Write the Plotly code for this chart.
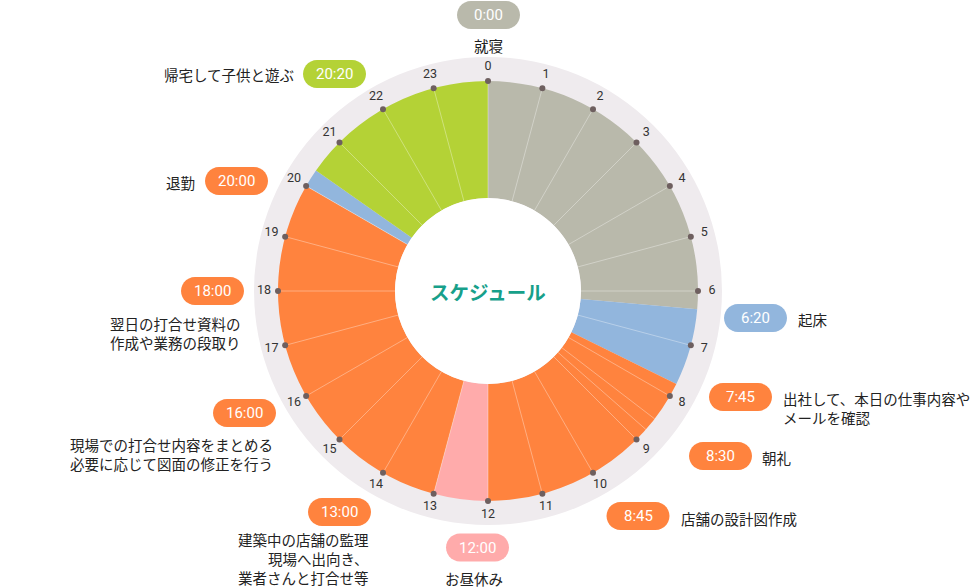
import numpy as np
import plotly.graph_objects as go

# schedule wedges (start times; last one closes the day)
segment_times = ["0:00", "6:20", "7:45", "12:00", "13:00", "20:00", "20:20", "24:00"]
segment_kind = ["sleep", "wake", "work", "lunch", "work", "wake", "home"]

# hour ticks round the dial
hours = list(range(24))
# extra thin spokes inside the work block
extra_spokes = ["8:30", "8:45"]

# callouts
callout_times = ["0:00", "6:20", "7:45", "8:30", "8:45", "12:00",
                 "13:00", "16:00", "18:00", "20:00", "20:20"]
callout_kind = ["sleep", "wake", "work", "work", "work", "lunch",
                "work", "work", "work", "work", "home"]
callout_texts = [
    "就寝",
    "起床",
    "出社して、本日の仕事内容や<br>メールを確認",
    "朝礼",
    "店舗の設計図作成",
    "お昼休み",
    "建築中の店舗の監理<br>現場へ出向き、<br>業者さんと打合せ等",
    "現場での打合せ内容をまとめる<br>必要に応じて図面の修正を行う",
    "翌日の打合せ資料の<br>作成や業務の段取り",
    "退勤",
    "帰宅して子供と遊ぶ",
]

colours = {
    "sleep": "#b9b9ab",
    "wake": "#92b6dd",
    "work": "#ff833e",
    "lunch": "#ffabab",
    "home": "#b4d236",
}

W, H = 980, 588
CX, CY = 488, 291
R_HOLE, R_WEDGE, R_RING = 93, 210, 234

# pill centre (px) and where its caption sits: (x, y, xanchor)
pill_pos = [(488.5, 15), (755.5, 318), (740.5, 397), (720.5, 456), (638, 516),
            (477.5, 547.5), (339.5, 512), (244.5, 413), (212.5, 291),
            (236.5, 181), (334.5, 74)]
text_pos = [(488, 46, "center"), (796, 319, "left"), (781, 408, "left"),
            (760, 457, "left"), (679, 518, "left"), (474, 578, "center"),
            (371, 558, "right"), (275, 454, "right"), (243, 333, "right"),
            (197, 182, "right"), (296, 75, "right")]

JP = "Noto Sans CJK JP"
NUM = "Roboto"


def hm(t):
    h, m = t.split(":")
    return int(h) + int(m) / 60


def px(x, y):
    return x / W, 1 - y / H


def pill_path(cx, cy, w=63, h=28):
    r = h / 2
    pts = []
    for a in np.linspace(-90, 90, 15):
        a = np.radians(a)
        pts.append((cx + w / 2 - r + r * np.cos(a), cy + r * np.sin(a)))
    for a in np.linspace(90, 270, 15):
        a = np.radians(a)
        pts.append((cx - w / 2 + r + r * np.cos(a), cy + r * np.sin(a)))
    pts = [px(x, y) for x, y in pts]
    return "M " + " L ".join(f"{x:.5f},{y:.5f}" for x, y in pts) + " Z"


fig = go.Figure()

# wedges
starts = [hm(t) for t in segment_times[:-1]]
ends = [hm(t) for t in segment_times[1:]]
fig.add_trace(go.Barpolar(
    theta=[(s + e) / 2 * 15 for s, e in zip(starts, ends)],
    width=[(e - s) * 15 for s, e in zip(starts, ends)],
    r=[R_WEDGE - R_HOLE] * len(starts),
    base=R_HOLE,
    marker=dict(color=[colours[k] for k in segment_kind], line=dict(width=0)),
    hoverinfo="skip",
))

# thin spokes
spoke_h = hours + [hm(t) for t in extra_spokes]
sr, st = [], []
for h in spoke_h:
    sr += [R_HOLE, R_WEDGE, None]
    st += [h * 15, h * 15, None]
fig.add_trace(go.Scatterpolar(
    r=sr, theta=st, mode="lines",
    line=dict(color="rgba(255,255,255,0.35)", width=1),
    hoverinfo="skip",
))

# dots + hour numbers
fig.add_trace(go.Scatterpolar(
    r=[R_WEDGE] * len(hours), theta=[h * 15 for h in hours],
    mode="markers", marker=dict(size=6, color="#6e5f5f"),
    hoverinfo="skip",
))
fig.add_trace(go.Scatterpolar(
    r=[224] * len(hours), theta=[h * 15 for h in hours],
    mode="text", text=[str(h) for h in hours],
    textfont=dict(family=NUM, size=12.5, color="#333333"),
    hoverinfo="skip",
))

shapes = []
annotations = []
for i, t in enumerate(callout_times):
    cx, cy = pill_pos[i]
    shapes.append(dict(type="path", xref="paper", yref="paper",
                       path=pill_path(cx, cy), line=dict(width=0),
                       fillcolor=colours[callout_kind[i]]))
    x, y = px(cx, cy)
    annotations.append(dict(x=x, y=y, xref="paper", yref="paper", text=t,
                            showarrow=False, xanchor="center", yanchor="middle",
                            font=dict(family=NUM, size=15, color="white")))
    tx, ty, anc = text_pos[i]
    x, y = px(tx, ty)
    annotations.append(dict(x=x, y=y, xref="paper", yref="paper",
                            text=callout_texts[i], showarrow=False,
                            xanchor=anc, yanchor="middle", align=anc,
                            font=dict(family=JP, size=14.5, color="#222222")))

x, y = px(CX, CY)
annotations.append(dict(x=x, y=y, xref="paper", yref="paper",
                        text="<b>スケジュール</b>", showarrow=False,
                        font=dict(family=JP, size=19.5, color="#17a08a")))

fig.update_layout(
    width=W, height=H,
    margin=dict(l=0, r=0, t=0, b=0),
    paper_bgcolor="white",
    showlegend=False,
    shapes=shapes,
    annotations=annotations,
    polar=dict(
        domain=dict(x=[(CX - R_RING) / W, (CX + R_RING) / W],
                    y=[(H - CY - R_RING) / H, (H - CY + R_RING) / H]),
        hole=R_HOLE / R_RING,
        bgcolor="#efebee",
        radialaxis=dict(range=[R_HOLE, R_RING], visible=False),
        angularaxis=dict(direction="clockwise", rotation=90,
                         showgrid=False, showline=False,
                         showticklabels=False, ticks=""),
        barmode="overlay",
    ),
)

# page body has an 8px default margin; drop it so the chart fills the window
fig.write_html("out.html", config={"displayModeBar": False},
               post_script="document.body.style.margin='0';")
